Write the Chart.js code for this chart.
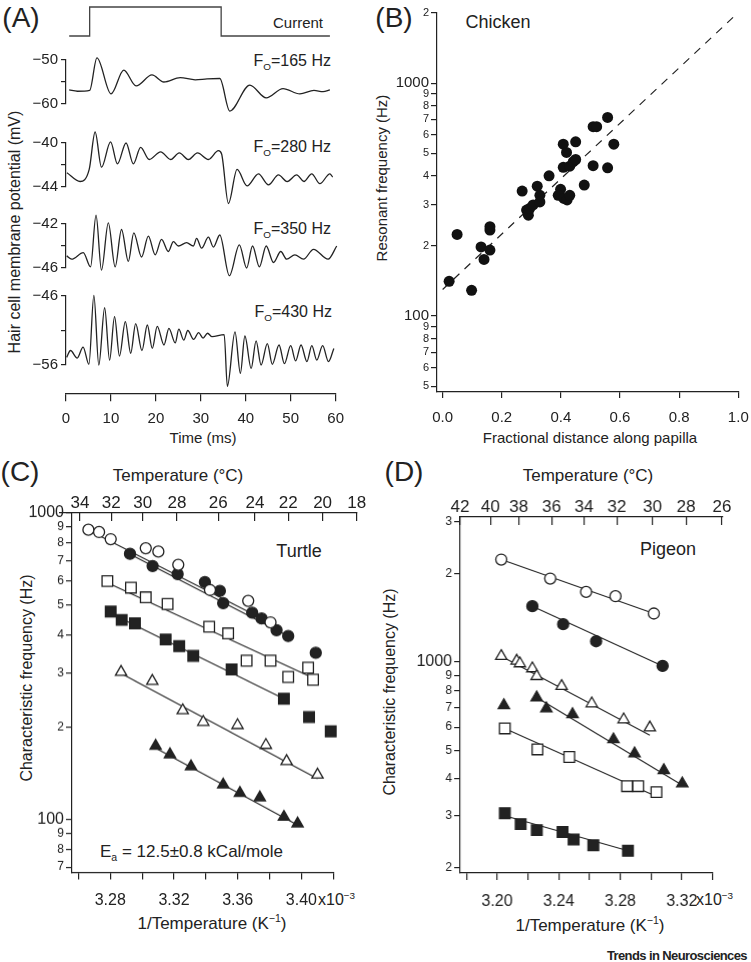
<!DOCTYPE html>
<html>
<head>
<meta charset="utf-8">
<script src="https://cdn.jsdelivr.net/npm/chart.js@4.4.1/dist/chart.umd.min.js"></script>
<style>
  body { margin: 0; width: 751px; height: 962px; position: relative; background: #fff; overflow: hidden;
         font-family: 'Liberation Sans', Arial, sans-serif; color: #222; }
  .box { position: absolute; }
  .t { position: absolute; white-space: nowrap; line-height: 1; transform: translate(-50%, -50%); }
  .r { transform: translate(-100%, -50%); }
  .l { transform: translate(0, -50%); }
  .rot { transform: translate(-50%, -50%) rotate(-90deg); }
  sub, sup { font-size: 62%; line-height: 0; }
</style>
</head>
<body>

<div class="t" style="left:21px;top:18px;font-size:28px">(A)</div>
<div class="t" style="left:394px;top:18px;font-size:28px">(B)</div>
<div class="t" style="left:20px;top:472px;font-size:28px">(C)</div>
<div class="t" style="left:404px;top:472px;font-size:28px">(D)</div>

<div class="t" style="left:298px;top:22px;font-size:15px">Current</div>
<div class="t r" style="left:331px;top:61px;font-size:16px">F<sub>O</sub>=165 Hz</div>
<div class="t r" style="left:331px;top:147px;font-size:16px">F<sub>O</sub>=280 Hz</div>
<div class="t r" style="left:331px;top:229px;font-size:16px">F<sub>O</sub>=350 Hz</div>
<div class="t r" style="left:332px;top:312px;font-size:16px">F<sub>O</sub>=430 Hz</div>
<div class="t rot" style="left:15px;top:232px;font-size:16px">Hair cell membrane potential (mV)</div>
<div class="t" style="left:203px;top:437px;font-size:15px">Time (ms)</div>

<div class="t" style="left:498px;top:22px;font-size:18px">Chicken</div>
<div class="t rot" style="left:381px;top:178px;font-size:15px">Resonant frequency (Hz)</div>
<div class="t" style="left:590px;top:437px;font-size:15px">Fractional distance along papilla</div>

<div class="t" style="left:178px;top:475px;font-size:17px">Temperature (°C)</div>
<div class="t" style="left:299px;top:551px;font-size:18px">Turtle</div>
<div class="t rot" style="left:27px;top:678px;font-size:16px">Characteristic frequency (Hz)</div>
<div class="t l" style="left:100px;top:851px;font-size:17px">E<sub>a</sub> = 12.5±0.8 kCal/mole</div>
<div class="t l" style="left:318px;top:900px;font-size:16px">x10<sup>−3</sup></div>
<div class="t" style="left:212px;top:923px;font-size:17px">1/Temperature (K<sup>−1</sup>)</div>

<div class="t" style="left:588px;top:475px;font-size:17px">Temperature (°C)</div>
<div class="t" style="left:668px;top:549px;font-size:18px">Pigeon</div>
<div class="t rot" style="left:390px;top:692px;font-size:16px">Characteristic frequency (Hz)</div>
<div class="t l" style="left:696px;top:900px;font-size:16px">x10<sup>−3</sup></div>
<div class="t" style="left:590px;top:925px;font-size:17px">1/Temperature (K<sup>−1</sup>)</div>

<div class="t r" style="left:747px;top:955px;font-size:13px;font-weight:bold;letter-spacing:-0.6px">Trends in Neurosciences</div>

<script>
// ---------- panel A: current step and voltage traces (time ms, mV) ----------
const timeTicks = [0, 10, 20, 30, 40, 50, 60];
const currentStep = [[0.7, 0], [5.2, 0], [5.2, 1], [34.1, 1], [34.1, 0], [58, 0]];

const trace165 = [[0.7,-56.8],[2.5,-57.1],[5.2,-56.9],[6.8,-49.5],[9.9,-57.7],[12.7,-52.3],[15.4,-55.9],
  [18.9,-53.4],[21.5,-55.0],[25.1,-54.0],[28.4,-54.5],[31,-54.3],[33.8,-54.2],[36.0,-61.6],[40.4,-55.7],
  [44.0,-58.6],[47.7,-56.5],[51.4,-57.7],[54.5,-56.9],[56.5,-57.2],[58.0,-56.8]];
const trace280 = [[0.2,-42.7],[3.1,-43.5],[5.1,-42.4],[6.4,-39.0],[7.8,-42.2],[9.8,-39.9],[11.3,-41.9],
  [13.2,-40.0],[14.8,-41.9],[16.4,-40.4],[18.3,-41.5],[20.8,-40.8],[23.0,-41.5],[24.9,-40.9],[26.9,-41.5],
  [28.9,-40.9],[31.3,-41.5],[33.5,-40.7],[34.2,-41.0],[35.7,-45.5],[37.6,-42.4],[39.8,-43.9],[42.3,-42.8],
  [44.5,-43.8],[46.7,-42.9],[48.6,-43.5],[50.7,-42.9],[52.3,-43.5],[54.0,-42.8],[55.8,-43.7],[58.0,-42.8],[58.6,-43.1]];
const trace350 = [[0.15,-44.9],[1.25,-45.2],[3.8,-44.6],[5.4,-45.9],[6.6,-41.2],[7.8,-46.2],[9.3,-41.9],
  [10.8,-45.9],[12.2,-42.5],[13.7,-45.4],[14.9,-42.8],[16.6,-45.0],[18.1,-43.1],[19.6,-44.8],[21.0,-43.4],
  [22.5,-44.5],[23.6,-43.6],[24.7,-44.0],[26.5,-43.7],[28.0,-44.0],[28.7,-43.3],[29.8,-44.2],[31.3,-43.2],
  [32.4,-44.1],[33.8,-43.0],[35.9,-46.7],[38.1,-43.9],[39.7,-46.0],[41.0,-44.0],[42.5,-45.9],[44.0,-44.0],
  [45.6,-45.5],[47.2,-44.5],[48.5,-45.2],[50.3,-44.8],[52.2,-45.2],[54.4,-44.3],[57.6,-45.2],[59.5,-44.0]];
const trace430 = [[0.15,-54.9],[1.0,-53.9],[2.5,-55.0],[3.8,-53.4],[5.1,-55.9],[6.2,-45.9],[7.3,-56.0],
  [8.6,-47.7],[9.7,-55.3],[10.8,-49.0],[11.9,-54.7],[13.2,-49.7],[14.4,-54.3],[15.5,-50.0],[16.9,-53.9],
  [18.1,-50.2],[19.2,-53.6],[20.3,-50.4],[21.8,-53.1],[22.9,-50.7],[24.3,-52.8],[25.1,-50.8],[26.2,-52.4],
  [27.1,-51.0],[28.4,-52.3],[29.5,-51.3],[30.5,-52.1],[31.5,-51.4],[32.5,-51.9],[35.2,-51.6],[35.9,-59.1],
  [37.6,-51.2],[38.8,-57.2],[39.8,-51.8],[41.2,-56.5],[42.3,-52.5],[43.4,-56.0],[44.8,-52.9],[45.9,-55.9],
  [47.4,-53.1],[48.6,-55.8],[50.0,-53.2],[51.1,-55.4],[52.3,-53.1],[53.6,-55.5],[54.7,-53.2],[55.8,-55.3],
  [57.1,-53.2],[58.4,-55.5],[59.6,-53.6]];
const ticks165 = [-60, -55, -50];
const ticks280 = [-44, -42, -40];
const ticks350 = [-46, -44, -42];
const ticks430 = [-56, -51, -46];
const timeAxisAt = -60.2;   // mV level of the bottom trace where the time axis sits

// ---------- panel B: chicken ----------
const chickX = [0.022,0.049,0.098,0.13,0.14,0.16,0.16,0.16,0.269,0.284,0.29,0.295,0.306,0.32,0.329,0.329,
  0.399,0.391,0.41,0.421,0.43,0.479,0.36,0.408,0.419,0.408,0.43,0.442,0.45,0.45,0.509,0.509,0.521,0.558,0.579,0.558];
const chickY = [141,224,129,198,175,192,234,242,344,285,271,290,300,361,330,309,
  350,330,320,315,330,365,400,547,504,435,440,460,470,560,442,650,650,712,547,433];
const chickFitX = [0, 0.985];
const chickFitY = [130, 1930];
const chickXTicks = [0, 0.2, 0.4, 0.6, 0.8, 1.0];
const chickYTicks = [50,60,70,80,90,100,200,300,400,500,600,700,800,900,1000,2000];

// ---------- panel C: turtle (x in 1e-3 /K) ----------
const turtleOpenCircleX = [3.2663,3.273,3.2803,3.3023,3.3102,3.3227,3.3426,3.3666,3.3806];
const turtleOpenCircleY = [882,867,822,768,749,678,561,517,440];
const turtleFilledCircleX = [3.2924,3.3066,3.3223,3.3394,3.3488,3.3509,3.3691,3.375,3.3844,3.3917,3.409];
const turtleFilledCircleY = [736,672,632,595,557,508,473,453,415,397,350];
const turtleOpenSquareX = [3.2782,3.293,3.3023,3.316,3.3421,3.354,3.3656,3.3806,3.3917,3.4042,3.4073];
const turtleOpenSquareY = [600,571,531,505,426,405,330,330,292,313,286];
const turtleFilledSquareX = [3.2803,3.2872,3.2955,3.3148,3.3233,3.3321,3.3562,3.389,3.4048,3.4184];
const turtleFilledSquareY = [477,448,437,387,368,342,309,248,216,194];
const turtleOpenTriX = [3.2868,3.3064,3.3255,3.3384,3.3599,3.3777,3.3907,3.4101];
const turtleOpenTriY = [303,283,227,208,203,175,155,140];
const turtleFilledTriX = [3.3085,3.3175,3.3307,3.3509,3.3614,3.3739,3.389,3.3976];
const turtleFilledTriY = [174,163,149,130,122,118,102,97];
const turtleFits = [
  [[3.2663, 3.3844], [880, 428]],
  [[3.2924, 3.3917], [735, 397]],
  [[3.2782, 3.4073], [593, 290]],
  [[3.2803, 3.389], [471, 248]],
  [[3.2868, 3.4101], [300, 136]],
  [[3.3085, 3.3976], [171, 96]]
];
const turtleXTicks = [3.26,3.28,3.30,3.32,3.34,3.36,3.38,3.40,3.42];
const turtleXLabels = [3.28, 3.32, 3.36, 3.40];
const turtleYTicks = [70,80,90,100,200,300,400,500,600,700,800,900,1000];
const turtleTempLabels = [34, 32, 30, 28, 26, 24, 22, 20, 18];
const turtleTempAt = [3.2611,3.2807,3.3004,3.3219,3.3478,3.3709,3.3918,3.4133,3.4347];

// ---------- panel D: pigeon ----------
const pigeonOpenCircleX = [3.2027,3.2345,3.2578,3.2769,3.3018];
const pigeonOpenCircleY = [2229,1921,1730,1673,1461];
const pigeonFilledCircleX = [3.2229,3.2429,3.2643,3.3075];
const pigeonFilledCircleY = [1547,1344,1176,969];
const pigeonOpenTriX = [3.2027,3.2127,3.2148,3.2229,3.2257,3.2419,3.2615,3.2822,3.2992];
const pigeonOpenTriY = [1046,1008,988,950,894,827,722,637,598];
const pigeonFilledTriX = [3.2044,3.2257,3.232,3.249,3.2756,3.2893,3.3083,3.3203];
const pigeonFilledTriY = [712,757,694,664,545,488,428,386];
const pigeonOpenSquareX = [3.205,3.2262,3.2469,3.2844,3.2916,3.3035];
const pigeonOpenSquareY = [594,504,475,378,378,361];
const pigeonFilledSquareX = [3.205,3.2153,3.2258,3.2425,3.2497,3.2625,3.285];
const pigeonFilledSquareY = [306,281,268,264,249,238,228];
const pigeonFits = [
  [[3.2027, 3.3018], [2229, 1461]],
  [[3.2229, 3.3075], [1547, 969]],
  [[3.2027, 3.2992], [1046, 563]],
  [[3.2257, 3.3203], [757, 381]],
  [[3.2050, 3.3035], [594, 349]],
  [[3.2050, 3.2850], [300, 228]]
];
const pigeonXTicks = [3.18,3.20,3.22,3.24,3.26,3.28,3.30,3.32,3.34];
const pigeonXLabels = [3.20, 3.24, 3.28, 3.32];
const pigeonYTicks = [200,300,400,500,600,700,800,900,1000,2000,3000];
const pigeonTempLabels = [42, 40, 38, 36, 34, 32, 30, 28, 26];
const pigeonTempAt = [3.176,3.1957,3.2142,3.2356,3.2567,3.2781,3.3014,3.3232,3.3466];

// ---------- helpers ----------
const INK = '#222';
Chart.defaults.font.family = "'Liberation Sans', Arial, sans-serif";
Chart.defaults.color = INK;
Chart.defaults.animation = false;

// canvas placed so that the chart area lands on [L,T,R,B] of the page;
// margins must be wider than half an edge label plus its padding
function frame(area, m) {
  const [L, T, R, B] = area;
  const d = document.createElement('div');
  d.className = 'box';
  d.style.left = (L - m.l) + 'px';
  d.style.top = (T - m.t) + 'px';
  d.style.width = (R - L + m.l + m.r) + 'px';
  d.style.height = (B - T + m.t + m.b) + 'px';
  const c = document.createElement('canvas');
  d.appendChild(c);
  document.body.appendChild(d);
  return c;
}

const setTicks = vals => s => { s.ticks = vals.map(v => ({ value: v })); };
const minus = v => (v < 0 ? '\u2212' + Math.abs(v) : String(v));
const isDecade = v => Math.abs(Math.log10(v) - Math.round(Math.log10(v))) < 1e-9;
const logLabel = v => (isDecade(v) ? String(v) : String(v)[0]);
const pts = (xs, ys) => xs.map((x, i) => ({ x, y: ys[i] }));

const border = () => ({ color: INK, width: 1.2 });
const grid = len => ({ drawOnChartArea: false, drawTicks: true, tickLength: len, color: INK, lineWidth: 1.2 });
// a y axis that only reserves room on the left
const spacerY = w => ({ display: true, min: 0, max: 1, afterFit: s => { s.width = w; },
  border: { display: false }, grid: { display: false }, ticks: { display: false } });

function baseOptions(pad) {
  return {
    responsive: true,
    maintainAspectRatio: false,
    animation: false,
    events: [],
    layout: { padding: pad, autoPadding: false },
    plugins: { legend: { display: false }, tooltip: { enabled: false } }
  };
}

function marks(xs, ys, style, filled, r) {
  return {
    data: pts(xs, ys), showLine: false, pointStyle: style, pointRadius: r,
    backgroundColor: filled ? INK : '#fff', borderColor: INK, borderWidth: 1.3, order: 0, clip: false
  };
}
function fitLine(f) {
  return { data: pts(f[0], f[1]), showLine: true, pointRadius: 0, borderColor: INK, borderWidth: 1.1, order: 1, clip: false };
}

// ---------- panel A ----------
(function () {
  const m = { l: 5, t: 5, r: 8, b: 5 };
  const opts = baseOptions({ left: m.l, top: m.t, right: m.r, bottom: m.b });
  opts.scales = {
    x: { type: 'linear', display: false, min: 0, max: 60 },
    y: { display: false, min: 0, max: 1 }
  };
  new Chart(frame([66, 7, 339, 36], m), {
    type: 'line',
    data: { datasets: [{ data: currentStep.map(p => ({ x: p[0], y: p[1] })), borderColor: '#444', borderWidth: 1.3, pointRadius: 0, tension: 0, clip: false }] },
    options: opts
  });
})();

// one voltage trace; the last one also carries the time axis, hung below it at a fixed mV level
function traceChart(area, trace, ticks, axisAt) {
  const withTime = axisAt !== undefined;
  const m = { l: 62, t: 14, r: 14, b: withTime ? 70 : 26 };
  const opts = baseOptions({ left: 0, top: m.t, right: m.r, bottom: m.b });
  opts.scales = {
    x: withTime ? {
      type: 'linear', position: { y: axisAt }, min: 0, max: 60, afterBuildTicks: setTicks(timeTicks),
      border: border(), grid: grid(7),
      ticks: { autoSkip: false, maxRotation: 0, font: { size: 15 }, padding: 9 }
    } : { type: 'linear', display: false, min: 0, max: 60 },
    y: {
      type: 'linear', min: ticks[0], max: ticks[2],
      afterBuildTicks: setTicks(ticks),
      afterFit: s => { s.width = m.l; },
      border: border(), grid: grid(5),
      ticks: { autoSkip: false, font: { size: 15 }, padding: 3, callback: (v, i) => (i === 1 ? '' : minus(v)) }
    }
  };
  new Chart(frame(area, m), {
    type: 'line',
    data: { datasets: [{ data: trace.map(p => ({ x: p[0], y: p[1] })), borderColor: INK, borderWidth: 1.3,
      pointRadius: 0, cubicInterpolationMode: 'monotone', clip: false }] },
    options: opts
  });
}
traceChart([66, 60, 339, 104], trace165, ticks165);
traceChart([66, 142.7, 339, 186.7], trace280, ticks280);
traceChart([66, 224.3, 339, 268.3], trace350, ticks350);
traceChart([66, 296, 339, 365], trace430, ticks430, timeAxisAt);

// ---------- panel B ----------
(function () {
  const m = { l: 60, t: 10, r: 30, b: 40 };
  const opts = baseOptions({ left: 0, top: m.t, right: m.r, bottom: 0 });
  opts.scales = {
    x: {
      type: 'linear', min: -0.019, max: 1.0, afterBuildTicks: setTicks(chickXTicks),
      afterFit: s => { s.height = m.b; },
      border: border(), grid: grid(6),
      ticks: { autoSkip: false, maxRotation: 0, font: { size: 15 }, padding: 11, callback: v => v.toFixed(1) }
    },
    y: {
      type: 'logarithmic', min: 47.2, max: 2000, afterBuildTicks: setTicks(chickYTicks),
      afterFit: s => { s.width = m.l; },
      border: border(), grid: grid(6),
      ticks: { autoSkip: false, padding: 2, callback: v => logLabel(v),
        font: ctx => ({ size: isDecade(ctx.tick.value) ? 15 : 11 }) }
    }
  };
  new Chart(frame([437, 13, 738.3, 392], m), {
    type: 'scatter',
    data: { datasets: [
      { data: pts(chickFitX, chickFitY), showLine: true, pointRadius: 0, borderColor: INK, borderWidth: 1.2,
        borderDash: [8, 7], order: 1, clip: false },
      { data: pts(chickX, chickY), pointRadius: 5.5, pointStyle: 'circle', backgroundColor: '#111', borderColor: '#111',
        borderWidth: 0, order: 0, clip: false }
    ] },
    options: opts
  });
})();

// ---------- panels C and D ----------
function tempPanel(area, xRange, yRange, xTicks, xLabels, yTicks, sets, fits) {
  const m = { l: 60, t: 12, r: 40, b: 40 };
  const opts = baseOptions({ left: 0, top: m.t, right: m.r, bottom: 0 });
  opts.scales = {
    x: {
      type: 'linear', min: xRange[0], max: xRange[1], afterBuildTicks: setTicks(xTicks),
      afterFit: s => { s.height = m.b; },
      border: border(), grid: grid(7),
      ticks: { autoSkip: false, maxRotation: 0, font: { size: 16 }, padding: 12,
        callback: v => (xLabels.includes(v) ? v.toFixed(2) : '') }
    },
    y: {
      type: 'logarithmic', min: yRange[0], max: yRange[1], afterBuildTicks: setTicks(yTicks),
      afterFit: s => { s.width = m.l; },
      border: border(), grid: grid(6),
      ticks: { autoSkip: false, padding: 2, callback: v => logLabel(v),
        font: ctx => ({ size: isDecade(ctx.tick.value) ? 16 : 12 }) }
    }
  };
  new Chart(frame(area, m), {
    type: 'scatter',
    data: { datasets: fits.map(fitLine).concat(sets) },
    options: opts
  });
}

// temperature scale drawn along the top of a separate, taller transparent chart
function tempAxis(area, xRange, at, labels) {
  const m = { l: 26, t: 40, r: 26, b: 4 };
  const opts = baseOptions({ left: 0, top: 0, right: m.r, bottom: m.b });
  opts.scales = {
    x: {
      type: 'linear', position: 'top', min: xRange[0], max: xRange[1], afterBuildTicks: setTicks(at),
      afterFit: s => { s.height = m.t; },
      border: border(), grid: grid(-8),
      ticks: { autoSkip: false, maxRotation: 0, font: { size: 17 }, padding: 7, callback: (v, i) => String(labels[i]) }
    },
    y: spacerY(m.l)
  };
  new Chart(frame(area, m), { type: 'scatter', data: { datasets: [{ data: [] }] }, options: opts });
}

tempPanel([72, 513.3, 333.3, 871.7], [3.256, 3.42], [67.3, 1000], turtleXTicks, turtleXLabels, turtleYTicks, [
  marks(turtleOpenCircleX, turtleOpenCircleY, 'circle', false, 5.5),
  marks(turtleFilledCircleX, turtleFilledCircleY, 'circle', true, 5.5),
  marks(turtleOpenSquareX, turtleOpenSquareY, 'rect', false, 7.5),
  marks(turtleFilledSquareX, turtleFilledSquareY, 'rect', true, 7.5),
  marks(turtleOpenTriX, turtleOpenTriY, 'triangle', false, 6.5),
  marks(turtleFilledTriX, turtleFilledTriY, 'triangle', true, 6.5)
], turtleFits);

tempPanel([460, 516.7, 711.7, 872.7], [3.176, 3.34], [191.6, 3110], pigeonXTicks, pigeonXLabels, pigeonYTicks, [
  marks(pigeonOpenCircleX, pigeonOpenCircleY, 'circle', false, 5.5),
  marks(pigeonFilledCircleX, pigeonFilledCircleY, 'circle', true, 5.5),
  marks(pigeonOpenTriX, pigeonOpenTriY, 'triangle', false, 6.5),
  marks(pigeonFilledTriX, pigeonFilledTriY, 'triangle', true, 6.5),
  marks(pigeonOpenSquareX, pigeonOpenSquareY, 'rect', false, 7.5),
  marks(pigeonFilledSquareX, pigeonFilledSquareY, 'rect', true, 7.5)
], pigeonFits);

tempAxis([60, 513.3, 357, 553.3], [3.2485, 3.4349], turtleTempAt, turtleTempLabels);
tempAxis([460, 516.7, 721.7, 556.7], [3.176, 3.3471], pigeonTempAt, pigeonTempLabels);
</script>
</body>
</html>
